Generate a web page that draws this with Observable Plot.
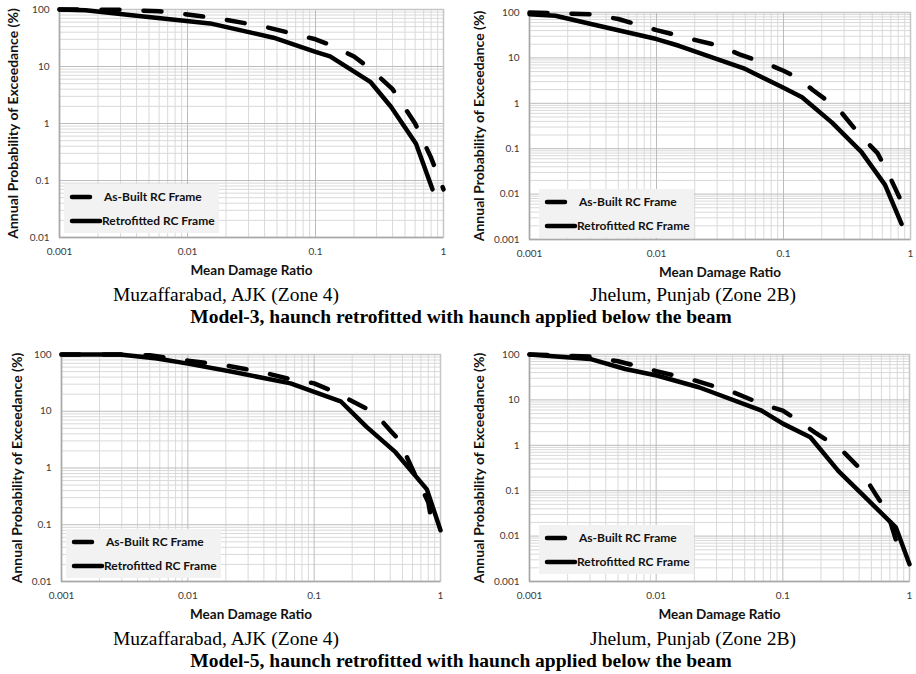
<!DOCTYPE html>
<html><head><meta charset="utf-8">
<script src="https://cdn.jsdelivr.net/npm/d3@7"></script>
<script src="https://cdn.jsdelivr.net/npm/@observablehq/plot@0.6"></script>
<style>
body{margin:0;background:#fff;}
#page{position:relative;width:916px;height:674px;overflow:hidden;background:#fff;font-family:Lato,sans-serif;}
.panel{position:absolute;}
#overlay{position:absolute;left:0;top:0;pointer-events:none;}
</style></head><body><div id="page"></div>
<script>
const xTicks = [0.001, 0.01, 0.1, 1];
const yTicksZone4 = [0.01, 0.1, 1, 10, 100];
const yTicksZone2B = [0.001, 0.01, 0.1, 1, 10, 100];
const seriesNames = ["As-Built RC Frame", "Retrofitted RC Frame"];
const xLabel = "Mean Damage Ratio";
const yLabel = "Annual Probability of Exceedance (%)";
const siteNames = ["Muzaffarabad, AJK (Zone 4)", "Jhelum, Punjab (Zone 2B)"];
const modelTitles = ["Model-3, haunch retrofitted with haunch applied below the beam",
                     "Model-5, haunch retrofitted with haunch applied below the beam"];

// Model-3, Muzaffarabad (Zone 4)
const m3MuzAsBuiltMDR = [0.001, 0.003, 0.006, 0.01, 0.02, 0.04, 0.1, 0.13, 0.2, 0.27, 0.4, 0.6, 0.8, 1];
const m3MuzAsBuiltP   = [100, 99, 93, 82, 66, 50, 30, 24, 15, 9, 4, 1, 0.25, 0.07];
const m3MuzRetroMDR   = [0.001, 0.0016, 0.004, 0.015, 0.047, 0.1, 0.13, 0.27, 0.39, 0.61, 0.82];
const m3MuzRetroP     = [100, 97, 78, 57, 32, 18, 15, 5.3, 1.95, 0.44, 0.07];

// Model-3, Jhelum (Zone 2B)
const m3JheAsBuiltMDR = [0.001, 0.003, 0.005, 0.01, 0.02, 0.03, 0.045, 0.08, 0.1, 0.13, 0.17, 0.27, 0.4, 0.55, 0.65, 0.85];
const m3JheAsBuiltP   = [100, 92, 72, 41, 25, 19, 12, 6.8, 5.2, 3.6, 1.96, 0.76, 0.2, 0.08, 0.033, 0.0068];
const m3JheRetroMDR   = [0.001, 0.0016, 0.0035, 0.01, 0.015, 0.05, 0.1, 0.14, 0.24, 0.41, 0.63, 0.85];
const m3JheRetroP     = [92, 85, 51, 26, 18.5, 5.7, 2.2, 1.36, 0.38, 0.085, 0.016, 0.0022];

// Model-5, Muzaffarabad (Zone 4)
const m5MuzAsBuiltMDR = [0.001, 0.003, 0.005, 0.01, 0.02, 0.04, 0.067, 0.1, 0.134, 0.19, 0.3, 0.4, 0.47, 0.6, 0.8, 0.88];
const m5MuzAsBuiltP   = [100, 100, 97, 78, 64, 48, 36, 31, 23.5, 16, 9.4, 4.6, 3.1, 0.95, 0.25, 0.074];
const m5MuzRetroMDR   = [0.001, 0.0029, 0.0057, 0.01, 0.023, 0.065, 0.1, 0.162, 0.26, 0.44, 0.78, 1];
const m5MuzRetroP     = [100, 100, 85, 69, 49, 31, 22, 15, 5.3, 1.9, 0.42, 0.08];

// Model-5, Jhelum (Zone 2B)
const m5JheAsBuiltMDR = [0.001, 0.003, 0.005, 0.01, 0.02, 0.04, 0.07, 0.1, 0.13, 0.18, 0.29, 0.4, 0.46, 0.55, 0.67, 0.8];
const m5JheAsBuiltP   = [100, 90, 71, 43, 27, 15, 7.9, 5.8, 3.6, 1.9, 0.8, 0.32, 0.17, 0.077, 0.033, 0.0066];
const m5JheRetroMDR   = [0.001, 0.003, 0.0057, 0.0101, 0.0217, 0.068, 0.1, 0.165, 0.275, 0.42, 0.78, 1];
const m5JheRetroP     = [100, 80, 48, 34.5, 19, 5.8, 3, 1.5, 0.27, 0.085, 0.0156, 0.0024];

function minorOf(ticks) {
  const out = [];
  for (let i = 0; i < ticks.length - 1; i++)
    for (let k = 2; k <= 9; k++) out.push(+(k * ticks[i]).toPrecision(6));
  return out;
}

function makePanel(cfg) {
  const asBuilt = cfg.abX.map((x, i) => ({mdr: x, p: cfg.abY[i], series: seriesNames[0]}));
  const retro = cfg.reX.map((x, i) => ({mdr: x, p: cfg.reY[i], series: seriesNames[1]}));
  const yT = cfg.yTicks;
  const lineOpts = {x: "mdr", y: "p", stroke: "#000", strokeWidth: 4.5, strokeLinecap: "round", strokeLinejoin: "round"};
  const svg = Plot.plot({
    width: 458, height: 290,
    marginLeft: cfg.ml, marginRight: cfg.mr, marginTop: cfg.mt, marginBottom: cfg.mb,
    x: {type: "log", domain: [0.001, 1], axis: null},
    y: {type: "log", domain: [yT[0], yT[yT.length - 1]], axis: null},
    style: {background: "transparent", overflow: "visible", fontFamily: "Lato, sans-serif"},
    marks: [
      Plot.ruleX(minorOf(xTicks), {stroke: "#d9d9d9", strokeWidth: 1}),
      Plot.ruleY(minorOf(yT), {stroke: "#d9d9d9", strokeWidth: 1}),
      Plot.ruleX(xTicks, {stroke: "#bcbcbc", strokeWidth: 1}),
      Plot.ruleY(yT, {stroke: "#bcbcbc", strokeWidth: 1}),
      Plot.frame({stroke: "#c6c6c6", strokeWidth: 1.5}),
      Plot.ruleX([0.001], {stroke: "#a8a8a8", strokeWidth: 1.5}),
      Plot.ruleY([yT[0]], {stroke: "#a8a8a8", strokeWidth: 1.5}),
      Plot.axisX(xTicks, {tickSize: 0, tickPadding: 10, tickFormat: d => String(d), fontSize: 10, fill: "#3a3a3a", label: null}),
      Plot.axisY(yT, {tickSize: 0, tickPadding: 10, tickFormat: d => String(d), fontSize: 10, fill: "#3a3a3a", label: null}),
      Plot.text([xLabel], {text: d => d, frameAnchor: "bottom", dy: 33, lineAnchor: "middle", textAnchor: "middle", fontWeight: "bold", fontSize: 13.5, fill: "#111"}),
      Plot.text([yLabel], {text: d => d, frameAnchor: "left", dx: cfg.ylx, rotate: -90, lineAnchor: "middle", textAnchor: "middle", fontWeight: "bold", fontSize: 14, fill: "#111"}),
      Plot.line(asBuilt, {...lineOpts, strokeDasharray: "18,24"}),
      Plot.line(retro, lineOpts)
    ]
  });
  svg.classList.add("panel");
  svg.style.position = "absolute";
  svg.style.left = cfg.left + "px";
  svg.style.top = cfg.top + "px";
  return svg;
}

const page = document.getElementById("page");
const panels = [
  {left: 0, top: 0, ml: 59, mr: 15, mt: 9, mb: 53, ylx: -46, yTicks: yTicksZone4,
   abX: m3MuzAsBuiltMDR, abY: m3MuzAsBuiltP, reX: m3MuzRetroMDR, reY: m3MuzRetroP,
   legend: {x: 64, y: 184}},
  {left: 458, top: 0, ml: 71, mr: 6, mt: 12, mb: 51, ylx: -50, yTicks: yTicksZone2B,
   abX: m3JheAsBuiltMDR, abY: m3JheAsBuiltP, reX: m3JheRetroMDR, reY: m3JheRetroP,
   legend: {x: 539, y: 189}},
  {left: 0, top: 330, ml: 61, mr: 18, mt: 24, mb: 39, ylx: -44, yTicks: yTicksZone4,
   abX: m5MuzAsBuiltMDR, abY: m5MuzAsBuiltP, reX: m5MuzRetroMDR, reY: m5MuzRetroP,
   legend: {x: 66, y: 529}},
  {left: 458, top: 330, ml: 71, mr: 7, mt: 24, mb: 39, ylx: -50, yTicks: yTicksZone2B,
   abX: m5JheAsBuiltMDR, abY: m5JheAsBuiltP, reX: m5JheRetroMDR, reY: m5JheRetroP,
   legend: {x: 539, y: 525}}
];
panels.forEach(p => page.appendChild(makePanel(p)));

// overlay: legends and captions
const ov = d3.select(page).append("svg").attr("id", "overlay").attr("width", 916).attr("height", 674);
panels.forEach(p => {
  const g = ov.append("g").attr("transform", `translate(${p.legend.x},${p.legend.y})`);
  g.append("rect").attr("width", 155).attr("height", 49).attr("fill", "#f2f2f2");
  g.append("line").attr("x1", 8).attr("x2", 26).attr("y1", 13).attr("y2", 13)
    .attr("stroke", "#000").attr("stroke-width", 4.5).attr("stroke-linecap", "round");
  g.append("line").attr("x1", 8).attr("x2", 36).attr("y1", 37).attr("y2", 37)
    .attr("stroke", "#000").attr("stroke-width", 4.5).attr("stroke-linecap", "round");
  g.append("text").attr("x", 40).attr("y", 17).text(seriesNames[0])
    .attr("font-family", "Lato, sans-serif").attr("font-weight", "bold").attr("font-size", 12).attr("fill", "#111");
  g.append("text").attr("x", 38).attr("y", 41).text(seriesNames[1])
    .attr("font-family", "Lato, sans-serif").attr("font-weight", "bold").attr("font-size", 12).attr("fill", "#111");
});
const caps = [
  {x: 226, y: 301, t: siteNames[0], b: false},
  {x: 693, y: 301, t: siteNames[1], b: false},
  {x: 461, y: 323, t: modelTitles[0], b: true},
  {x: 226, y: 645, t: siteNames[0], b: false},
  {x: 693, y: 645, t: siteNames[1], b: false},
  {x: 461, y: 667, t: modelTitles[1], b: true}
];
caps.forEach(c => ov.append("text").attr("x", c.x).attr("y", c.y).attr("text-anchor", "middle")
  .attr("font-family", "'Liberation Serif', 'Times New Roman', serif").attr("font-size", 19.5)
  .attr("font-weight", c.b ? "bold" : "normal").attr("fill", "#000").text(c.t));
</script>
</body></html>
